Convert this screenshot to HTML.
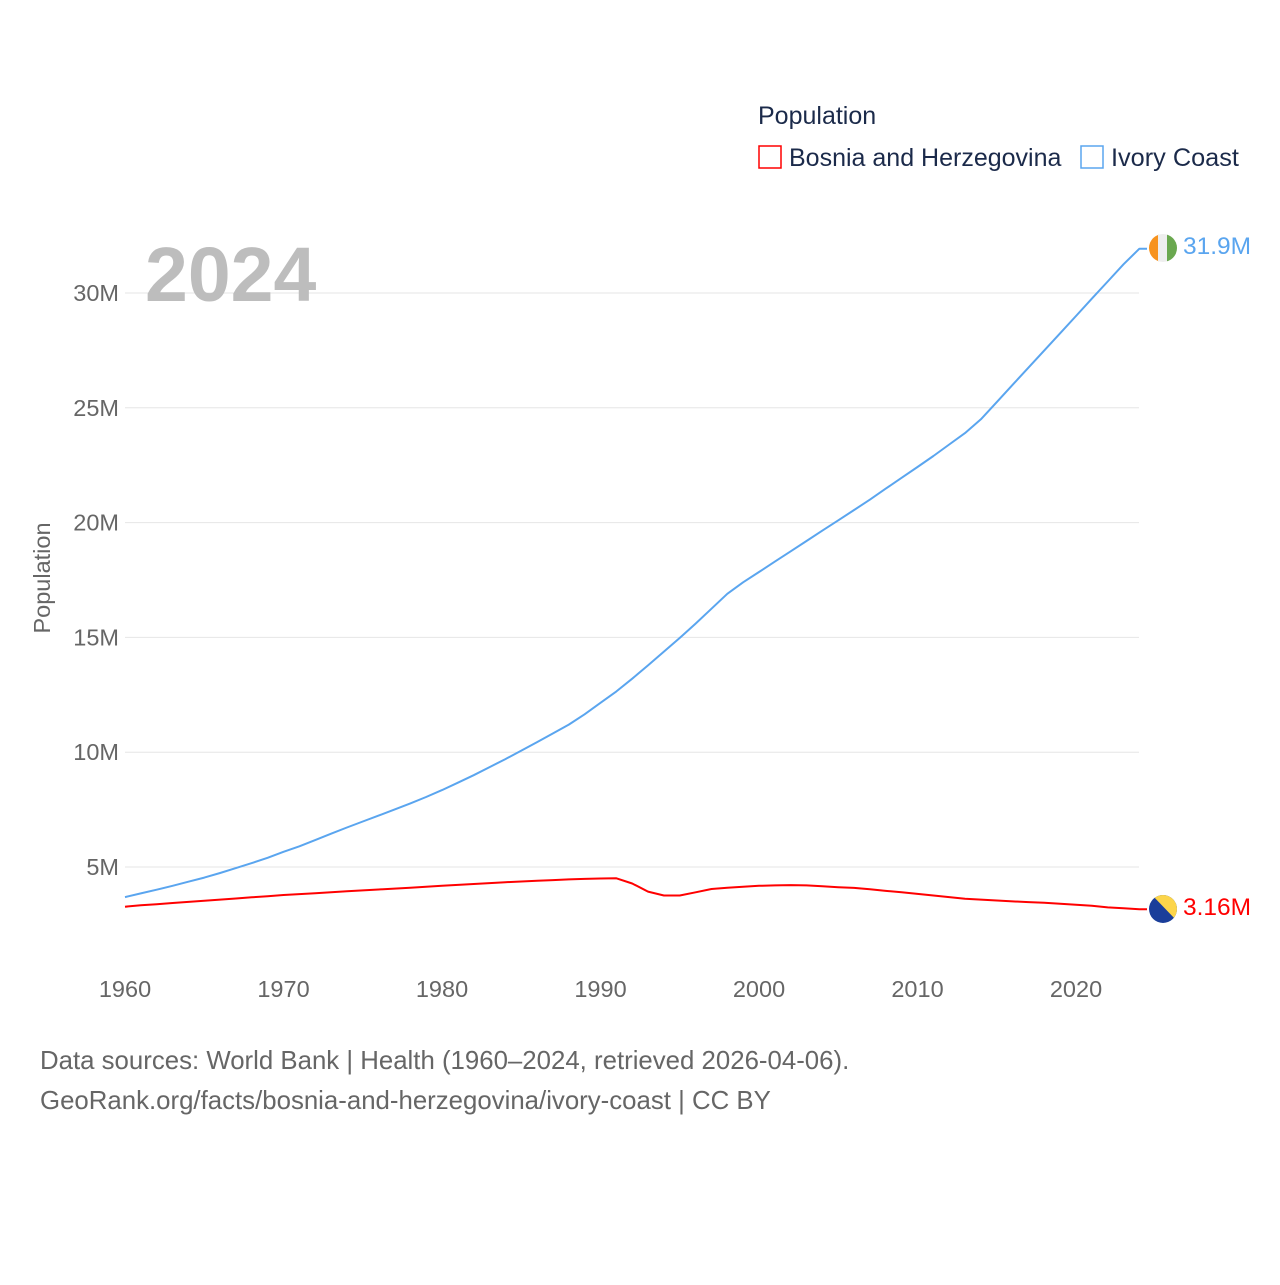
<!DOCTYPE html>
<html><head><meta charset="utf-8"><style>
html,body{margin:0;padding:0;background:#fff;}
svg text{font-family:"Liberation Sans",sans-serif;}
</style></head><body>
<svg id="chart" width="1280" height="1280" viewBox="0 0 1280 1280" xmlns="http://www.w3.org/2000/svg">
<g id="grid"></g>
<g id="yticks"></g>
<g id="xticks"></g>
<text x="145" y="301" font-size="77" font-weight="bold" fill="#bdbdbd">2024</text>
<text transform="translate(50,578) rotate(-90)" text-anchor="middle" font-size="23.5" fill="#666">Population</text>
<g id="series"></g>
<g>
<text x="758" y="124" font-size="25" fill="#1b2a4a">Population</text>
<g>
<rect x="759" y="146" width="22" height="22" fill="none" stroke="#ff0000" stroke-width="1.5"/>
<text x="789" y="166" font-size="25" fill="#1b2a4a">Bosnia and Herzegovina</text></g>
<g>
<rect x="1081" y="146" width="22" height="22" fill="none" stroke="#5aa5ef" stroke-width="1.5"/>
<text x="1111" y="166" font-size="25.3" fill="#1b2a4a">Ivory Coast</text></g>
</g>
<defs>
<clipPath id="c1"><circle cx="1163" cy="248" r="14"/></clipPath>
<clipPath id="c2"><circle cx="1163" cy="909" r="14"/></clipPath>
</defs>
<g clip-path="url(#c1)">
<rect x="1149" y="234" width="10" height="28" fill="#f7931e"/>
<rect x="1158" y="234" width="10" height="28" fill="#eeeeee"/>
<rect x="1167" y="234" width="11" height="28" fill="#6aa84f"/>
</g>
<g clip-path="url(#c2)">
<rect x="1149" y="895" width="28" height="28" fill="#1a3e9a"/>
<polygon points="1152,895 1178,895 1178,922" fill="#fcd54a"/>
</g>
<text x="1183" y="254" font-size="24.5" fill="#5aa5ef">31.9M</text>
<text x="1183" y="915" font-size="24.5" fill="#ff0000">3.16M</text>
<text x="40" y="1069" font-size="25.8" fill="#666">Data sources: World Bank | Health (1960–2024, retrieved 2026-04-06).</text>
<text x="40" y="1109" font-size="25.8" fill="#666">GeoRank.org/facts/bosnia-and-herzegovina/ivory-coast | CC BY</text>
</svg>
<script>
const startYear = 1960;
const yTicks = [5, 10, 15, 20, 25, 30];
const yTickLabels = ["5M","10M","15M","20M","25M","30M"];
const xTicks = [1960,1970,1980,1990,2000,2010,2020];
const ivoryCoast = [3.69,3.85,4.01,4.18,4.36,4.54,4.74,4.95,5.17,5.40,5.66,5.9,6.17,6.45,6.72,6.98,7.24,7.5,7.77,8.05,8.35,8.67,9.0,9.35,9.7,10.07,10.44,10.82,11.2,11.65,12.15,12.65,13.2,13.78,14.38,14.98,15.6,16.25,16.9,17.4,17.85,18.3,18.75,19.2,19.65,20.1,20.55,21.0,21.48,21.95,22.42,22.9,23.4,23.9,24.5,25.25,26.0,26.75,27.5,28.25,29.0,29.75,30.5,31.25,31.93];
const bosnia = [3.27,3.33,3.38,3.43,3.48,3.53,3.58,3.63,3.68,3.73,3.78,3.82,3.86,3.9,3.94,3.98,4.02,4.06,4.1,4.14,4.18,4.22,4.26,4.3,4.34,4.37,4.4,4.43,4.46,4.48,4.5,4.51,4.28,3.93,3.76,3.76,3.9,4.04,4.1,4.14,4.18,4.2,4.21,4.2,4.16,4.12,4.09,4.03,3.96,3.9,3.83,3.76,3.69,3.62,3.58,3.54,3.5,3.47,3.44,3.4,3.36,3.31,3.24,3.2,3.16];
const NS = "http://www.w3.org/2000/svg";
function xs(yr){ return 125 + (yr - 1960) * (1076 - 125) / 60; }
function ys(v){ return 981.8 - v * 22.96; }
function mk(tag, attrs, parent){ const e = document.createElementNS(NS, tag); for (const k in attrs) e.setAttribute(k, attrs[k]); parent.appendChild(e); return e; }
const grid = document.getElementById('grid'), yt = document.getElementById('yticks'), xt = document.getElementById('xticks'), ser = document.getElementById('series');
yTicks.forEach((v,i)=>{
  const l = mk('line',{x1:125,x2:1139,y1:ys(v),y2:ys(v),stroke:'#e6e6e6','stroke-width':1},grid);
  
  
  const t = mk('text',{x:119,y:ys(v)+8,'text-anchor':'end','font-size':23.5,fill:'#666'},yt);
  t.textContent = yTickLabels[i];
  
  
});
xTicks.forEach(yr=>{
  const t = mk('text',{x:xs(yr),y:997,'text-anchor':'middle','font-size':23.5,fill:'#666'},xt);
  t.textContent = yr;
  
  
});
function line(arr,color,name){
  let d = arr.map((v,i)=>(i?'L':'M')+xs(startYear+i).toFixed(1)+','+ys(v).toFixed(1)).join(' ');
  d += ' L1147,'+ys(arr[arr.length-1]).toFixed(1);
  const p = mk('path',{d:d,fill:'none',stroke:color,'stroke-width':2,'stroke-linejoin':'round'},ser);
  
  
}
line(ivoryCoast,'#5aa5ef','ivory-coast-line');
line(bosnia,'#ff0000','bosnia-line');
</script>
</body></html>
